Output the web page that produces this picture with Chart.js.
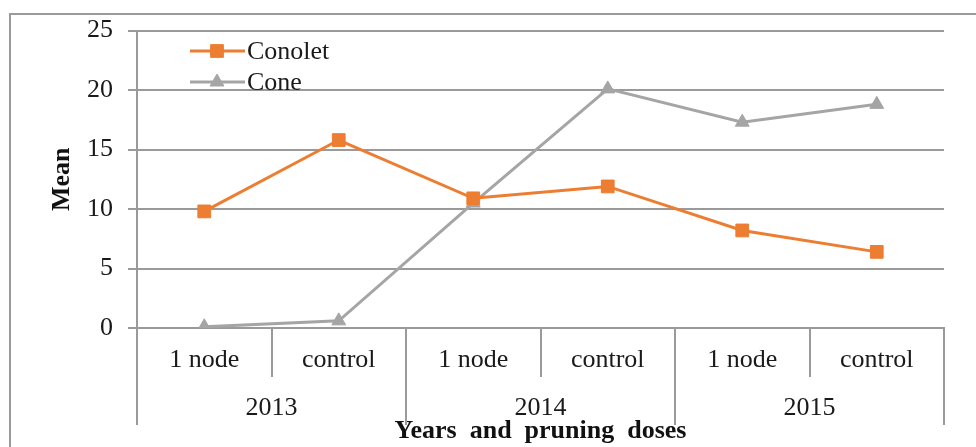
<!DOCTYPE html>
<html>
<head>
<meta charset="utf-8">
<script src="https://cdn.jsdelivr.net/npm/chart.js@4.4.1/dist/chart.umd.min.js"></script>
<style>
  html, body { margin: 0; padding: 0; background: #fff; overflow: hidden; }
  #wrap { position: relative; width: 976px; height: 447px; }
  #frame { position: absolute; left: 9px; top: 13px; width: 1000px; height: 500px;
           border-top: 2px solid #9a9a9a; border-left: 2px solid #9a9a9a; }
  canvas { position: absolute; left: 0; top: 0; }
</style>
</head>
<body>
<div id="wrap">
  <div id="frame"></div>
  <canvas id="myChart" width="976" height="447"></canvas>
</div>
<script>
let categories = ['1 node', 'control', '1 node', 'control', '1 node', 'control'];
let years = ['2013', '2014', '2015'];
let conolet = [9.8, 15.8, 10.9, 11.9, 8.2, 6.4];
let cone = [0.1, 0.6, 10.5, 20.1, 17.3, 18.8];
let yTicks = [0, 5, 10, 15, 20, 25];

let serif = 'Liberation Serif';
let gridColor = '#9a9a9a';

// legend drawn inside the plot, top-left
let insideLegend = {
    id: 'insideLegend',
    afterDraw(chart) {
        let ctx = chart.ctx;
        let rows = [51, 82];
        ctx.save();
        chart.data.datasets.forEach((ds, i) => {
            let y = rows[i];
            ctx.strokeStyle = ds.borderColor;
            ctx.fillStyle = ds.backgroundColor;
            ctx.lineWidth = 3;
            ctx.beginPath();
            ctx.moveTo(190, y);
            ctx.lineTo(245, y);
            ctx.stroke();
            ctx.lineWidth = 1;
            Chart.helpers.drawPoint(ctx, {
                pointStyle: ds.pointStyle,
                radius: ds.pointRadius,
                borderWidth: 1
            }, 217, y);
            ctx.fillStyle = '#1a1a1a';
            ctx.font = '26px ' + serif;
            ctx.textBaseline = 'middle';
            ctx.textAlign = 'left';
            ctx.fillText(ds.label, 247, y + 1);
        });
        ctx.restore();
    }
};

let data = {
    labels: categories,
    datasets: [{
        label: 'Conolet',
        data: conolet,
        borderColor: '#ED7D31',
        backgroundColor: '#ED7D31',
        borderWidth: 3,
        pointStyle: 'rect',
        pointRadius: 9,
        pointBorderWidth: 1,
        tension: 0,
    }, {
        label: 'Cone',
        data: cone,
        borderColor: '#A5A5A5',
        backgroundColor: '#A5A5A5',
        borderWidth: 3,
        pointStyle: 'triangle',
        pointRadius: 8,
        pointBorderWidth: 1,
        tension: 0,
    }]
};

let config = {
    type: 'line',
    data: data,
    options: {
        responsive: false,
        animation: false,
        layout: {
            padding: { left: 47, right: 32, top: 30, bottom: 0 }
        },
        plugins: {
            legend: { display: false },
            tooltip: { enabled: false }
        },
        scales: {
            x: {
                type: 'category',
                position: 'bottom',
                offset: true,
                grid: {
                    offset: true,
                    drawOnChartArea: false,
                    color: gridColor,
                    lineWidth: 2,
                    tickLength: 49,
                },
                border: { color: gridColor, width: 2 },
                ticks: {
                    color: '#1a1a1a',
                    padding: -32,
                    maxRotation: 0,
                    autoSkip: false,
                    font: { family: serif, size: 26 }
                },
                afterFit(scale) { scale.height = 49; }
            },
            x2: {
                type: 'category',
                position: 'bottom',
                labels: years,
                offset: true,
                grid: {
                    offset: true,
                    drawOnChartArea: false,
                    color: gridColor,
                    lineWidth: 2,
                    tickLength: 48,
                },
                border: { display: false },
                ticks: {
                    color: '#1a1a1a',
                    padding: -32,
                    maxRotation: 0,
                    autoSkip: false,
                    font: { family: serif, size: 26 }
                },
                title: {
                    display: true,
                    text: 'Years  and  pruning  doses',
                    color: '#111',
                    padding: 0,
                    font: { family: serif, size: 26, weight: 'bold', lineHeight: 1.2 }
                },
                afterFit(scale) { scale.height = 70; }
            },
            y: {
                min: 0,
                max: 25,
                afterBuildTicks(scale) {
                    scale.ticks = yTicks.map(v => ({ value: v }));
                },
                grid: {
                    color: gridColor,
                    lineWidth: 2,
                    tickLength: 9,
                },
                border: { color: gridColor, width: 2 },
                ticks: {
                    color: '#1a1a1a',
                    padding: 15,
                    font: { family: serif, size: 26 }
                },
                title: {
                    display: true,
                    text: 'Mean',
                    color: '#111',
                    padding: 0,
                    font: { family: serif, size: 26, weight: 'bold', lineHeight: 1.2 }
                },
                afterFit(scale) { scale.width = 90; }
            }
        }
    },
    plugins: [insideLegend]
};

let myChart = new Chart(
    document.getElementById('myChart'),
    config
);
</script>
</body>
</html>
